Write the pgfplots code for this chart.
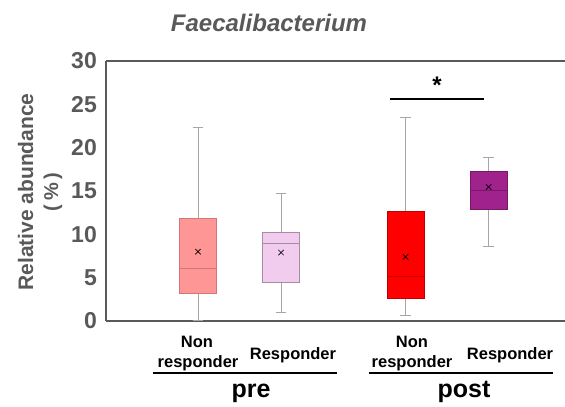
\documentclass[border=0pt]{standalone}
\usepackage{pgfplots}
\pgfplotsset{compat=1.18}
\usepgfplotslibrary{statistics}
\usepackage{fontspec}
\setmainfont{Liberation Sans}
\definecolor{txtgray}{HTML}{595959}
\definecolor{wgray}{HTML}{A6A6A6}
\definecolor{cA}{HTML}{FF9696}
\definecolor{cAe}{HTML}{D07878}
\definecolor{cB}{HTML}{F2CCEE}
\definecolor{cBe}{HTML}{A88CA4}
\definecolor{cC}{HTML}{FF0000}
\definecolor{cCe}{HTML}{C00000}
\definecolor{cD}{HTML}{A0228C}
\definecolor{cDe}{HTML}{781868}
\begin{document}
\begin{tikzpicture}[x=1pt,y=1pt]
\useasboundingbox (0,0) rectangle (565,407);
\begin{axis}[
  at={(106pt,86pt)}, anchor=south west,
  scale only axis, width=459pt, height=260pt,
  xmin=-0.108, xmax=5.42, ymin=0, ymax=30,
  axis y line*=left,
  axis line style={draw=txtgray, line width=1.3pt},
  xtick=\empty,
  ytick={0,5,10,15,20,25,30},
  major tick length=0pt,
  /pgf/number format/assume math mode=true,
  yticklabel style={font=\fontsize{23}{23}\selectfont\bfseries, text=txtgray, inner sep=0pt, xshift=-9pt},
  clip=false,
  boxplot/draw direction=y,
  boxplot/box extend=0.45,
  boxplot/whisker extend=0.13,
  boxplot/every whisker/.style={draw=wgray, line width=0.9pt},
]
\addplot[boxplot prepared={draw position=1, lower whisker=0.1, lower quartile=3.2, median=6.1, upper quartile=11.8, upper whisker=22.3},
  draw=cAe, fill=cA, line width=0.8pt, boxplot/every median/.style={draw=cAe, line width=1pt}] coordinates {};
\addplot[boxplot prepared={draw position=2, lower whisker=0.96, lower quartile=4.4, median=9.0, upper quartile=10.2, upper whisker=14.7},
  draw=cBe, fill=cB, line width=0.8pt, boxplot/every median/.style={draw=cBe, line width=1pt}] coordinates {};
\addplot[boxplot prepared={draw position=3.5, lower whisker=0.65, lower quartile=2.6, median=5.1, upper quartile=12.7, upper whisker=23.45},
  draw=cCe, fill=cC, line width=0.8pt, boxplot/every median/.style={draw=cCe, line width=1pt}] coordinates {};
\addplot[boxplot prepared={draw position=4.5, lower whisker=8.6, lower quartile=12.9, median=15.07, upper quartile=17.3, upper whisker=18.9},
  draw=cDe, fill=cD, line width=0.8pt, boxplot/every median/.style={draw=cDe, line width=1pt}] coordinates {};
\addplot[only marks, mark=x, mark size=3.8pt, black, mark options={line width=0.7pt}] coordinates {(1,8.0) (2,7.9) (3.5,7.4) (4.5,15.45)};
\addplot[black, line width=2pt] coordinates {(3.31,25.6) (4.45,25.6)};
\node[font=\fontsize{24}{24}\selectfont\bfseries] at (axis cs:3.88,27.2) {*};
\end{axis}
% title
\node[anchor=base, text=txtgray, font=\fontsize{24}{24}\selectfont\bfseries\itshape] at (269,375) {Faecalibacterium};
% y label
\node[anchor=base, rotate=90, text=txtgray, font=\fontsize{21}{21}\selectfont\bfseries] at (33,215) {Relative abundance};
\node[anchor=center, rotate=90, text=txtgray, font=\fontsize{20}{20}\selectfont\bfseries] at (53,215) {(\hspace{4pt}\%\hspace{4pt})};
% categories
\begin{scope}[font=\fontsize{16.5}{16.5}\selectfont\bfseries]
\node[anchor=base] at (197,59.7) {Non};
\node[anchor=base] at (198,39.7) {responder};
\node[anchor=base] at (293,47) {Responder};
\node[anchor=base] at (412,59.7) {Non};
\node[anchor=base] at (412,39.7) {responder};
\node[anchor=base] at (510,47) {Responder};
\end{scope}
\draw[line width=2pt] (153,34) -- (337,34);
\draw[line width=2pt] (369,34) -- (553,34);
\node[anchor=base, font=\fontsize{25}{25}\selectfont\bfseries] at (251,9.7) {pre};
\node[anchor=base, font=\fontsize{25}{25}\selectfont\bfseries] at (464,9.7) {post};
\end{tikzpicture}
\end{document}
